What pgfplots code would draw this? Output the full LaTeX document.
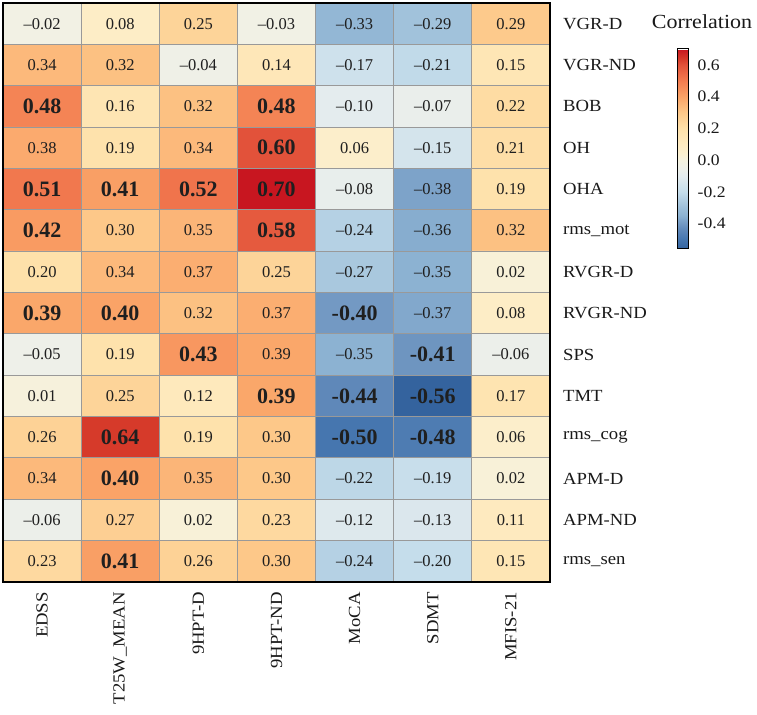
\documentclass[border=0pt]{standalone}
\usepackage{fontspec}
\setmainfont{Liberation Serif}
\newfontfamily\lab{Liberation Serif}[FakeStretch=1.1]
\usepackage{pgfplots}
\usepackage{pgfplotstable}
\pgfplotsset{compat=1.18}

\pgfplotstableread{
x y c lab b
0 0 -0.02 –0.02 0
1 0 0.08 0.08 0
2 0 0.25 0.25 0
3 0 -0.03 –0.03 0
4 0 -0.33 –0.33 0
5 0 -0.29 –0.29 0
6 0 0.29 0.29 0
0 1 0.34 0.34 0
1 1 0.32 0.32 0
2 1 -0.04 –0.04 0
3 1 0.14 0.14 0
4 1 -0.17 –0.17 0
5 1 -0.21 –0.21 0
6 1 0.15 0.15 0
0 2 0.48 0.48 1
1 2 0.16 0.16 0
2 2 0.32 0.32 0
3 2 0.48 0.48 1
4 2 -0.10 –0.10 0
5 2 -0.07 –0.07 0
6 2 0.22 0.22 0
0 3 0.38 0.38 0
1 3 0.19 0.19 0
2 3 0.34 0.34 0
3 3 0.60 0.60 1
4 3 0.06 0.06 0
5 3 -0.15 –0.15 0
6 3 0.21 0.21 0
0 4 0.51 0.51 1
1 4 0.41 0.41 1
2 4 0.52 0.52 1
3 4 0.70 0.70 1
4 4 -0.08 –0.08 0
5 4 -0.38 –0.38 0
6 4 0.19 0.19 0
0 5 0.42 0.42 1
1 5 0.30 0.30 0
2 5 0.35 0.35 0
3 5 0.58 0.58 1
4 5 -0.24 –0.24 0
5 5 -0.36 –0.36 0
6 5 0.32 0.32 0
0 6 0.20 0.20 0
1 6 0.34 0.34 0
2 6 0.37 0.37 0
3 6 0.25 0.25 0
4 6 -0.27 –0.27 0
5 6 -0.35 –0.35 0
6 6 0.02 0.02 0
0 7 0.39 0.39 1
1 7 0.40 0.40 1
2 7 0.32 0.32 0
3 7 0.37 0.37 0
4 7 -0.40 -0.40 1
5 7 -0.37 –0.37 0
6 7 0.08 0.08 0
0 8 -0.05 –0.05 0
1 8 0.19 0.19 0
2 8 0.43 0.43 1
3 8 0.39 0.39 0
4 8 -0.35 –0.35 0
5 8 -0.41 -0.41 1
6 8 -0.06 –0.06 0
0 9 0.01 0.01 0
1 9 0.25 0.25 0
2 9 0.12 0.12 0
3 9 0.39 0.39 1
4 9 -0.44 -0.44 1
5 9 -0.56 -0.56 1
6 9 0.17 0.17 0
0 10 0.26 0.26 0
1 10 0.64 0.64 1
2 10 0.19 0.19 0
3 10 0.30 0.30 0
4 10 -0.50 -0.50 1
5 10 -0.48 -0.48 1
6 10 0.06 0.06 0
0 11 0.34 0.34 0
1 11 0.40 0.40 1
2 11 0.35 0.35 0
3 11 0.30 0.30 0
4 11 -0.22 –0.22 0
5 11 -0.19 –0.19 0
6 11 0.02 0.02 0
0 12 -0.06 –0.06 0
1 12 0.27 0.27 0
2 12 0.02 0.02 0
3 12 0.23 0.23 0
4 12 -0.12 –0.12 0
5 12 -0.13 –0.13 0
6 12 0.11 0.11 0
0 13 0.23 0.23 0
1 13 0.41 0.41 1
2 13 0.26 0.26 0
3 13 0.30 0.30 0
4 13 -0.24 –0.24 0
5 13 -0.20 –0.20 0
6 13 0.15 0.15 0
}\data

\pgfplotsset{
  colormap={corr}{
    rgb255(0pt)=(52,99,158);
    rgb255(6pt)=(70,118,175);
    rgb255(12pt)=(95,136,185);
    rgb255(16pt)=(115,153,195);
    rgb255(21pt)=(140,178,210);
    rgb255(26pt)=(157,191,217);
    rgb255(36pt)=(197,221,235);
    rgb255(46pt)=(228,236,238);
    rgb255(51pt)=(238,240,233);
    rgb255(56pt)=(245,242,224);
    rgb255(60pt)=(251,240,208);
    rgb255(66pt)=(254,235,193);
    rgb255(76pt)=(254,225,170);
    rgb255(86pt)=(253,200,137);
    rgb255(96pt)=(250,163,103);
    rgb255(106pt)=(243,124,80);
    rgb255(116pt)=(226,82,58);
    rgb255(120pt)=(214,58,42);
    rgb255(126pt)=(200,22,32)
  }
}

\begin{document}
\begin{tikzpicture}
\begin{axis}[
  at={(0,0)}, anchor=south west,
  scale only axis, width=547bp, height=579bp,
  xmin=-0.5, xmax=6.5, ymin=-0.5, ymax=13.5, y dir=reverse,
  enlargelimits=false,
  xtick={0,...,6},
  xticklabels={EDSS,T25W\_MEAN,9HPT-D,9HPT-ND,MoCA,SDMT,MFIS-21},
  ytick={0,...,13},
  yticklabels={VGR-D,VGR-ND,BOB,OH,OHA,rms\_mot,RVGR-D,RVGR-ND,SPS,TMT,rms\_cog,APM-D,APM-ND,rms\_sen},
  yticklabel pos=right,
  xticklabel style={rotate=90, anchor=east, inner sep=0pt, font=\lab\fontsize{17bp}{20bp}\selectfont, text=black!90},
  yticklabel style={anchor=west, inner sep=0pt, font=\lab\fontsize{17bp}{20bp}\selectfont, text=black!90},
  xticklabel shift=10bp,
  yticklabel shift=13bp,
  major tick length=0pt, minor tick length=0pt,
  minor xtick={0.5,1.5,...,5.5},
  minor ytick={0.5,1.5,...,12.5},
  xminorgrids, yminorgrids,
  minor grid style={draw=black!40, line width=0.9bp},
  axis on top,
  axis line style={black, line width=1.6bp},
  colormap name=corr,
  point meta min=-0.56, point meta max=0.70,
  colorbar,
  colorbar style={
    at={(parent axis.south west)}, anchor=south west,
    xshift=666bp, yshift=333bp,
    scale only axis, width=11bp, height=200bp,
    ytick={-0.4,-0.2,0,0.2,0.4,0.6},
    yticklabels={-0.4,-0.2,0.0,0.2,0.4,0.6},
    yticklabel style={anchor=west, inner sep=0pt, font=\lab\fontsize{16bp}{18bp}\selectfont, text=black!90},
    yticklabel shift=9bp,
    major tick length=0pt,
    axis line style={black, line width=1bp},
  },
  every node near coord/.append style={anchor=center, inner sep=0pt, text=black!88, font=\fontsize{16.5bp}{18bp}\selectfont},
]
\addplot[matrix plot*, mesh/cols=7, point meta=explicit] table[x=x, y=y, meta=c]{\data};
\addplot[only marks, mark=*, mark size=0pt, mark options={draw=none, fill=none},
  point meta=explicit symbolic,
  visualization depends on={\thisrow{b}\as\isbold},
  nodes near coords={\ifdim\isbold pt>0.5pt \bfseries\fontsize{22bp}{24bp}\selectfont\fi\pgfplotspointmeta}]
  table[x=x, y=y, meta=lab]{\data};
\end{axis}
\node[font=\lab\fontsize{20bp}{22bp}\selectfont, text=black!90] at (699bp,560bp) {Correlation};
\pgfresetboundingbox
\path[use as bounding box] (-3bp,-133bp) rectangle (754bp,582bp);
\end{tikzpicture}
\end{document}
